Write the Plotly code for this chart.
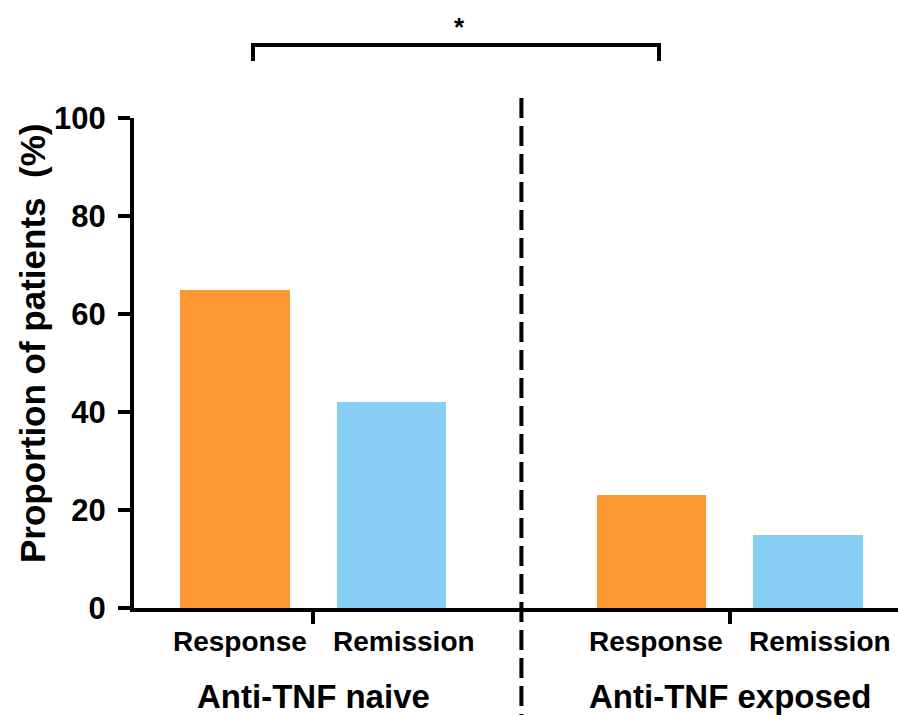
import plotly.graph_objects as go

# ---- data ----
groups = ["Anti-TNF naive", "Anti-TNF exposed"]
measures = ["Response", "Remission"]
response_vals = [65, 23]
remission_vals = [42, 15]
y_ticks = [0, 20, 40, 60, 80, 100]
y_title = "Proportion of patients\u00a0 (%)"
sig_label = "*"

# ---- layout helpers ----
W, H = 898, 715
ML, MR, MT, MB = 134, 0, 118, 107
GROUP_GAP = 2.66      # distance between first bars of the two groups
BAR_W = 0.70
XR = [-0.645, 4.236]
FONT = "Arial, Liberation Sans, Helvetica, sans-serif"
ORANGE = "#FD9835"
BLUE = "#88CDF6"

def py(px):  # pixel y -> paper y
    return 1 - (px - MT) / (H - MT - MB)

def xpos(g, i):
    return g * GROUP_GAP + i

fig = go.Figure()
series = [(measures[0], response_vals, ORANGE, 0), (measures[1], remission_vals, BLUE, 1)]
for name, vals, col, i in series:
    fig.add_trace(go.Bar(
        x=[xpos(g, i) for g in range(len(groups))],
        y=vals, width=BAR_W, name=name,
        marker=dict(color=col, line=dict(width=0)),
        showlegend=False,
    ))

annotations = []
# category labels under each bar
for g in range(len(groups)):
    for i, m in enumerate(measures):
        annotations.append(dict(x=xpos(g, i) + (0.08 if i == 1 else 0.03), y=py(641), xref="x", yref="paper",
                                text=f"<b>{m}</b>", showarrow=False,
                                font=dict(family=FONT, size=28, color="black"),
                                xanchor="center", yanchor="middle"))
    annotations.append(dict(x=xpos(g, 0.5), y=py(696), xref="x", yref="paper",
                            text=f"<b>{groups[g]}</b>", showarrow=False,
                            font=dict(family=FONT, size=33, color="black"),
                            xanchor="center", yanchor="middle"))
# y title
annotations.append(dict(x=(32 - ML) / (W - ML - MR), y=py(344), xref="paper", yref="paper",
                        text=f"<b>{y_title}</b>", showarrow=False, textangle=-90,
                        font=dict(family=FONT, size=35, color="black"),
                        xanchor="center", yanchor="middle"))
# significance star
annotations.append(dict(x=(459 - 235) / 156.5, y=py(27), xref="x", yref="paper",
                        text=f"<b>{sig_label}</b>", showarrow=False,
                        font=dict(family=FONT, size=26, color="black"),
                        xanchor="center", yanchor="middle"))

def xp(xd):  # data x -> paper x
    return (xd - XR[0]) / (XR[1] - XR[0])

sep_x = xp((xpos(0, 1) + xpos(1, 0)) / 2)
bl = xp((253 - 235) / 156.5)
br = xp((659 - 235) / 156.5)
shapes = [
    dict(type="line", xref="paper", yref="paper", x0=sep_x, x1=sep_x, y0=py(98), y1=py(715),
         line=dict(color="black", width=4, dash="20px,8px")),
    dict(type="path", xref="paper", yref="paper",
         path=f"M {bl},{py(61)} L {bl},{py(45)} L {br},{py(45)} L {br},{py(61)}",
         line=dict(color="black", width=4)),
]

fig.update_layout(
    width=W, height=H,
    margin=dict(l=ML, r=MR, t=MT, b=MB, pad=0),
    plot_bgcolor="white", paper_bgcolor="white",
    bargap=0,
    annotations=annotations, shapes=shapes,
    xaxis=dict(range=XR, showgrid=False, zeroline=False, showline=True,
               linecolor="black", linewidth=4,
               tickvals=[xpos(g, 0.5) for g in range(len(groups))],
               ticktext=["", ""], ticks="outside", ticklen=12, tickwidth=4, tickcolor="black"),
    yaxis=dict(range=[0, 100], showgrid=False, zeroline=False, showline=True,
               linecolor="black", linewidth=4,
               tickvals=y_ticks, ticks="outside", ticklen=12, tickwidth=4, tickcolor="black",
               ticklabelstandoff=6,
               tickfont=dict(family=FONT, size=31, color="black", weight="bold")),
)

fig.write_html("out.html")
